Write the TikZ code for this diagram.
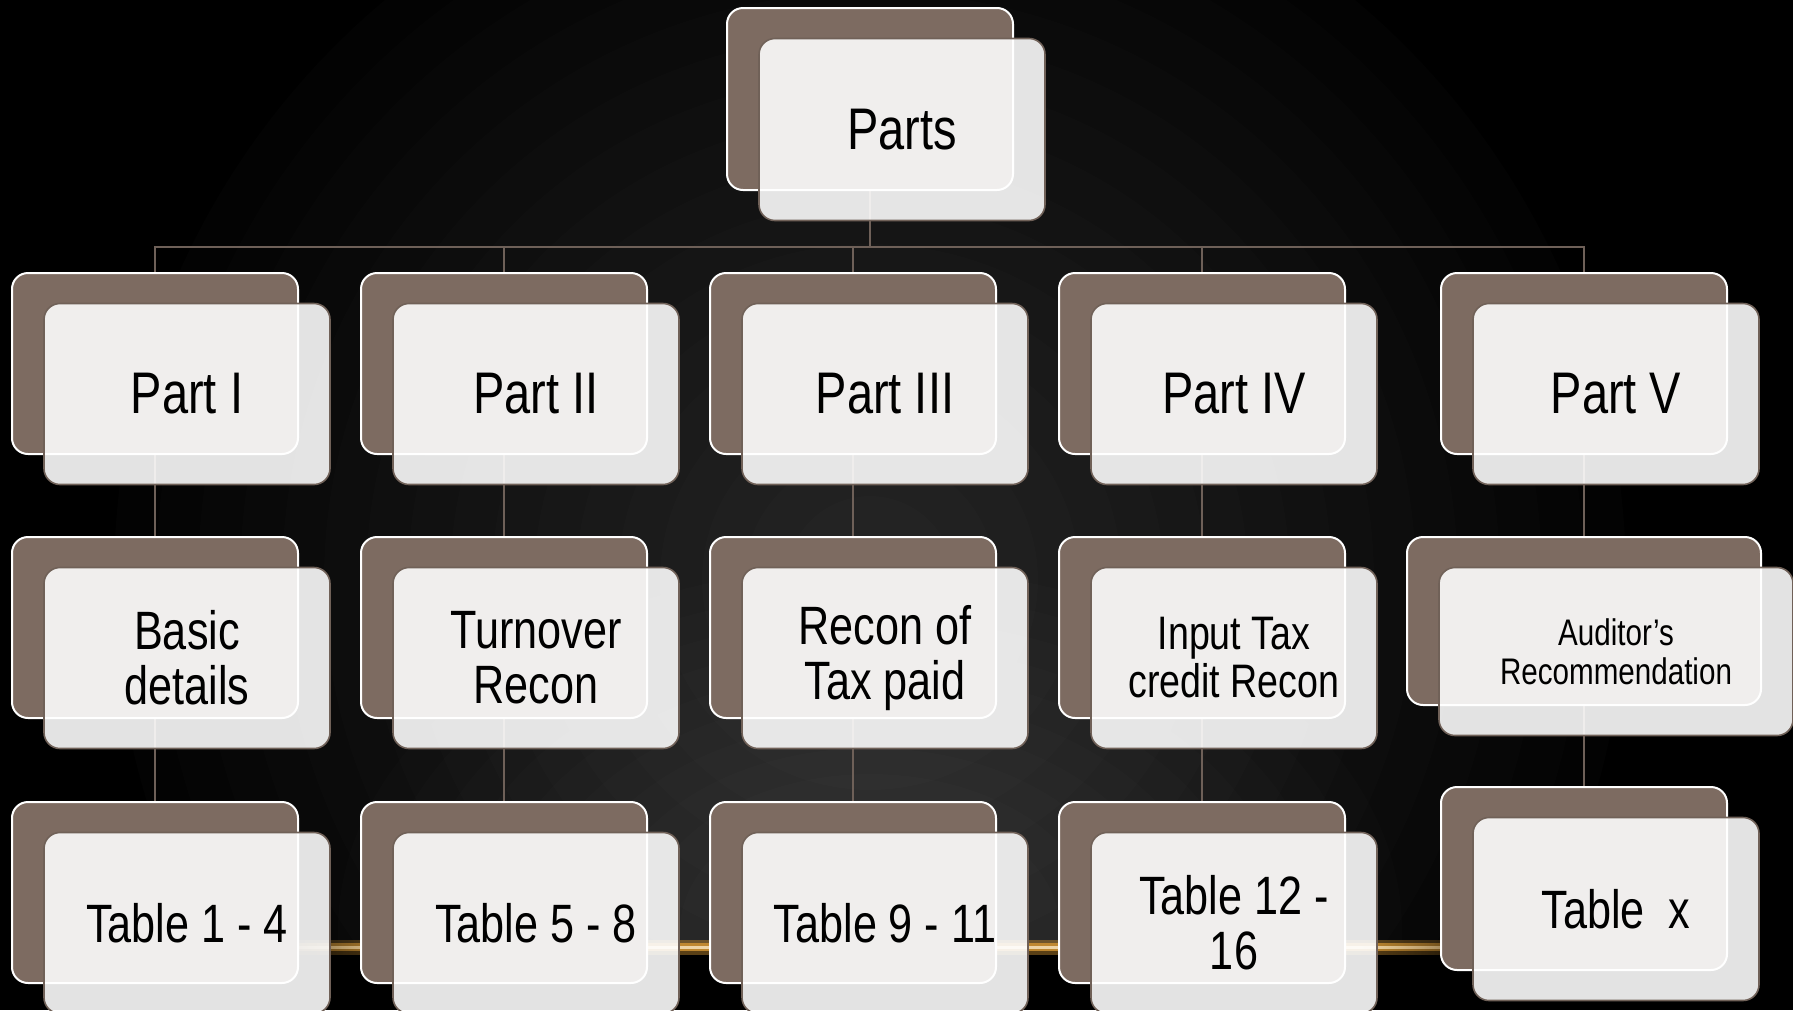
\documentclass[tikz,border=0pt]{standalone}
\usepackage{fontspec}
\usetikzlibrary{fadings}
\newfontfamily\boxfont{Liberation Sans}[FakeStretch=0.8]

\definecolor{boxbrown}{RGB}{125,107,97}
\definecolor{boxedge}{RGB}{112,97,88}
\definecolor{linkbrown}{RGB}{110,96,88}
\definecolor{streakgold}{RGB}{200,142,50}
\definecolor{streakcore}{RGB}{250,232,196}

\tikzfading[name=fadeleft, left color=transparent!100, right color=transparent!0]
\tikzfading[name=faderight, left color=transparent!0, right color=transparent!100]

\tikzset{
  backbox/.style={draw=white, line width=2pt, fill=boxbrown, rounded corners=16pt,
    inner sep=0pt, outer sep=0pt, anchor=north west},
  frontbox/.style={draw=boxedge, line width=1.6pt, fill=white, fill opacity=0.89,
    text opacity=1, rounded corners=16pt, inner sep=0pt, outer sep=0pt,
    anchor=north west, align=center, text=black},
  conn/.style={draw=linkbrown, line width=2pt},
  glowstep/.style={fill=white, fill opacity=0.01},
  tierA/.style={font={\boxfont\fontsize{58.7}{60}\selectfont}},
  tierB/.style={font={\boxfont\fontsize{54}{55}\selectfont}},
  tierC/.style={font={\boxfont\fontsize{47}{48}\selectfont}},
  tierD/.style={font={\boxfont\fontsize{37}{39}\selectfont}},
}

% a stacked card: brown back card and a translucent front card carrying the text
% #1 name, #2 x, #3 y (top-left of back card), #4 width, #5 height, #6 font style, #7 text
\newcommand\stackcard[7]{%
  \node[backbox, minimum width=#4pt, minimum height=#5pt] (#1b) at (#2,#3) {};
  \node[frontbox, minimum width=#4pt, minimum height=#5pt, #6] (#1) at (#2+32,#3+30.5) {#7};
}

% one layer of the light streak, faded at both ends
\newcommand\streakband[4]{% colour, opacity, top y, bottom y
  \begin{scope}
    \clip (200,#3) rectangle (1600,#4);
    \fill[#1, opacity=#2, path fading=fadeleft] (250,900) rectangle (410,1000);
    \fill[#1, opacity=#2] (410,900) rectangle (1360,1000);
    \fill[#1, opacity=#2, path fading=faderight] (1360,900) rectangle (1520,1000);
  \end{scope}
}

\pgfdeclarelayer{cards}
\pgfsetlayers{main,cards}

\begin{document}
\begin{tikzpicture}[x=1pt, y=-1pt]
\useasboundingbox (0,0) rectangle (1793,1010);
\clip (0,0) rectangle (1793,1010);

% background: black stage with a soft grey glow above the light streak
\fill[black] (0,0) rectangle (1793,1010);
\begin{scope}
  \clip (0,0) rectangle (1793,946);
  \foreach \r in {1,...,18}
    \fill[glowstep] (870,580) ellipse ({\r*42} and {\r*42});
  \foreach \r in {1,...,14}
    \fill[glowstep] (870,930) ellipse ({\r*38} and {\r*26});
\end{scope}
\streakband{streakgold}{0.45}{940}{954}
\streakband{streakgold}{0.9}{943.5}{950.5}
\streakband{streakcore}{0.8}{946}{948}

% junction height of the bus line
\coordinate (bus) at (870,247);

% cards
\begin{pgfonlayer}{cards}
  \stackcard{top}{727}{8}{286}{182}{tierA}{Parts}

  \stackcard{p1}{12}{273}{286}{181}{tierA}{Part I}
  \stackcard{p2}{361}{273}{286}{181}{tierA}{Part II}
  \stackcard{p3}{710}{273}{286}{181}{tierA}{Part III}
  \stackcard{p4}{1059}{273}{286}{181}{tierA}{Part IV}
  \stackcard{p5}{1441}{273}{286}{181}{tierA}{Part V}

  \stackcard{s1}{12}{537}{286}{181}{tierB}{Basic\\details}
  \stackcard{s2}{361}{537}{286}{181}{tierB}{Turnover\\Recon}
  \stackcard{s3}{710}{537}{286}{181}{tierB}{Recon of\\Tax paid}
  \stackcard{s4}{1059}{537}{286}{181}{tierC}{Input Tax\\credit Recon}
  \stackcard{s5}{1407}{537}{354}{168}{tierD}{Auditor’s\\Recommendation}

  \stackcard{t1}{12}{802}{286}{181}{tierB}{Table 1 - 4}
  \stackcard{t2}{361}{802}{286}{181}{tierB}{Table 5 - 8}
  \stackcard{t3}{710}{802}{286}{181}{tierB}{Table 9 - 11}
  \stackcard{t4}{1059}{802}{286}{181}{tierB}{Table 12 -\\16}
  \stackcard{t5}{1441}{787}{286}{183}{tierB}{Table\ \ x}
\end{pgfonlayer}

% connectors, kept beneath the cards
\draw[conn] (topb.center) -- (topb.center |- bus);
\draw[conn] (p1b.center) -- (p1b.center |- bus) -- (p5b.center |- bus) -- (p5b.center);
\draw[conn] (p2b.center) -- (p2b.center |- bus);
\draw[conn] (p3b.center) -- (p3b.center |- bus);
\draw[conn] (p4b.center) -- (p4b.center |- bus);
\foreach \c in {1,...,5}{
  \draw[conn] (p\c b.center) -- (s\c b.center);
  \draw[conn] (s\c b.center) -- (t\c b.center);
}
\end{tikzpicture}
\end{document}
